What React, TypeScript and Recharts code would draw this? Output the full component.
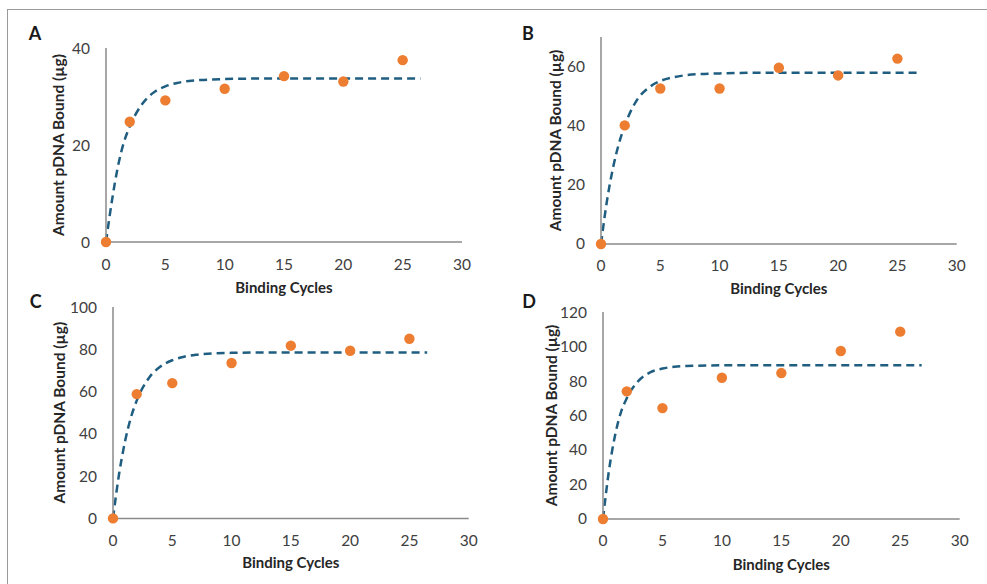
import React from 'react';
import { ComposedChart, Line, Scatter, XAxis, YAxis, Label } from 'recharts';

// ---- data ----
const cycles = [0, 2, 5, 10, 15, 20, 25];
const boundA = [0, 24.8, 29.2, 31.6, 34.2, 33.1, 37.5];
const boundB = [0, 40.1, 52.6, 52.6, 59.6, 57.0, 62.7];
const boundC = [0, 58.8, 64.0, 73.5, 81.7, 79.3, 85.0];
const boundD = [0, 74.0, 64.3, 81.9, 84.6, 97.4, 108.6];

const fitXA = [0, 0.5, 1, 1.5, 2, 3, 4, 5, 6, 7, 8, 10, 13, 26.5];
const fitYA = [0, 8.5, 15.5, 20.5, 23.8, 28.3, 30.8, 32.1, 32.8, 33.2, 33.4, 33.6, 33.7, 33.7];
const fitXB = [0, 0.5, 1, 1.5, 2, 3, 4, 5, 6, 7, 8, 10, 13, 27];
const fitYB = [0, 14.5, 25.5, 33.8, 40.0, 48.5, 52.8, 55.1, 56.3, 57.0, 57.4, 57.7, 57.9, 57.9];
const fitXC = [0, 0.5, 1, 1.5, 2, 3, 4, 5, 6, 7, 8, 10, 13, 26.5];
const fitYC = [0, 20.5, 36.0, 47.5, 55.7, 66.2, 71.8, 74.8, 76.5, 77.4, 77.9, 78.3, 78.5, 78.5];
const fitXD = [0, 0.5, 1, 1.5, 2, 3, 4, 5, 6, 7, 8, 10, 13, 26.8];
const fitYD = [0, 28.0, 48.0, 61.7, 70.0, 80.2, 85.1, 87.2, 88.3, 88.7, 88.9, 89.1, 89.1, 89.1];

const xTicks = [0, 5, 10, 15, 20, 25, 30];
const yTicksA = [0, 20, 40];
const yTicksB = [0, 20, 40, 60];
const yTicksC = [0, 20, 40, 60, 80, 100];
const yTicksD = [0, 20, 40, 60, 80, 100, 120];
const yMaxes = [40, 70, 100, 120];
const panelLetters = ['A', 'B', 'C', 'D'];
const xTitle = 'Binding Cycles';
const yTitle = 'Amount pDNA Bound (µg)';

const zip = (xs: number[], ys: number[]) => xs.map((x, i) => ({ x, y: ys[i] }));

const panels = [
  { letter: panelLetters[0], points: zip(cycles, boundA), fit: zip(fitXA, fitYA), yMax: yMaxes[0], yTicks: yTicksA,
    plot: { left: 105.7, top: 48, width: 356, height: 194 }, yLabelDx: -8, xLabelDy: 16, letterPos: { x: 35, y: 33 } },
  { letter: panelLetters[1], points: zip(cycles, boundB), fit: zip(fitXB, fitYB), yMax: yMaxes[1], yTicks: yTicksB,
    plot: { left: 601, top: 37.3, width: 355.7, height: 207 }, yLabelDx: -5.5, xLabelDy: 14.7, letterPos: { x: 528, y: 33 } },
  { letter: panelLetters[2], points: zip(cycles, boundC), fit: zip(fitXC, fitYC), yMax: yMaxes[2], yTicks: yTicksC,
    plot: { left: 113.3, top: 307.3, width: 355.7, height: 211.4 }, yLabelDx: -13, xLabelDy: 14.3, letterPos: { x: 35.7, y: 301 } },
  { letter: panelLetters[3], points: zip(cycles, boundD), fit: zip(fitXD, fitYD), yMax: yMaxes[3], yTicks: yTicksD,
    plot: { left: 603.3, top: 312, width: 356.7, height: 207 }, yLabelDx: -11, xLabelDy: 16, letterPos: { x: 529, y: 301 } },
];

const FONT = 'Lato, "Open Sans", sans-serif';
const AXIS_W = 80;
const MT = 10;
const MR = 24;
const XAXIS_H = 60;

const Dot = (p: any) => <circle cx={p.cx} cy={p.cy} r={5.2} fill="#ED7D31" />;

function Panel({ cfg }: { cfg: (typeof panels)[number] }) {
  const { plot } = cfg;
  const w = AXIS_W + plot.width + MR;
  const h = MT + plot.height + XAXIS_H;
  return (
    <div style={{ position: 'absolute', left: plot.left - AXIS_W, top: plot.top - MT, width: w, height: h }}>
      <ComposedChart width={w} height={h} margin={{ top: MT, right: MR, left: 0, bottom: 0 }} style={{ fontFamily: FONT }}>
        <XAxis
          type="number"
          dataKey="x"
          domain={[0, 30]}
          ticks={xTicks}
          interval={0}
          height={XAXIS_H}
          tickSize={0}
          tickMargin={16.5}
          tickLine={false}
          axisLine={{ stroke: '#8a8a8a', strokeWidth: 1.5 }}
          tick={{ fontSize: 15.5, fill: '#404040', fontFamily: FONT }}
        >
          <Label value={xTitle} position="center" dy={cfg.xLabelDy}
            style={{ fontSize: 15, fontWeight: 700, fill: '#262626', fontFamily: FONT }} />
        </XAxis>
        <YAxis
          type="number"
          dataKey="y"
          domain={[0, cfg.yMax]}
          ticks={cfg.yTicks}
          interval={0}
          width={AXIS_W}
          tickSize={0}
          tickMargin={16}
          tickLine={false}
          axisLine={{ stroke: '#8a8a8a', strokeWidth: 1.5 }}
          tick={{ fontSize: 15.5, fill: '#404040', fontFamily: FONT }}
        >
          <Label value={yTitle} position="center" angle={-90} dx={cfg.yLabelDx}
            style={{ fontSize: 15.5, fontWeight: 700, fill: '#262626', fontFamily: FONT, textAnchor: 'middle' }} />
        </YAxis>
        <Scatter data={cfg.points} dataKey="y" shape={Dot} isAnimationActive={false} />
        <Line
          data={cfg.fit}
          dataKey="y"
          type="monotone"
          dot={false}
          activeDot={false}
          stroke="#1F5E80"
          strokeWidth={2.5}
          strokeDasharray="8 5"
          isAnimationActive={false}
        />
      </ComposedChart>
      <div
        style={{
          position: 'absolute',
          left: cfg.letterPos.x - plot.left + AXIS_W - 9,
          top: cfg.letterPos.y - plot.top + MT - 12,
          width: 18,
          textAlign: 'center',
          fontFamily: FONT,
          fontWeight: 700,
          fontSize: 18,
          color: '#1a1a1a',
          lineHeight: '24px',
        }}
      >
        {cfg.letter}
      </div>
    </div>
  );
}

export default function App() {
  return (
    <div style={{ position: 'absolute', left: 0, top: 0, width: 987, height: 584, background: '#fff', overflow: 'hidden' }}>
      <div style={{ position: 'absolute', left: 7, top: 9, right: 0, bottom: 0, borderTop: '1.5px solid #9a9a9a', borderLeft: '1.5px solid #9a9a9a' }} />
      {panels.map((p) => (
        <Panel key={p.letter} cfg={p} />
      ))}
    </div>
  );
}
